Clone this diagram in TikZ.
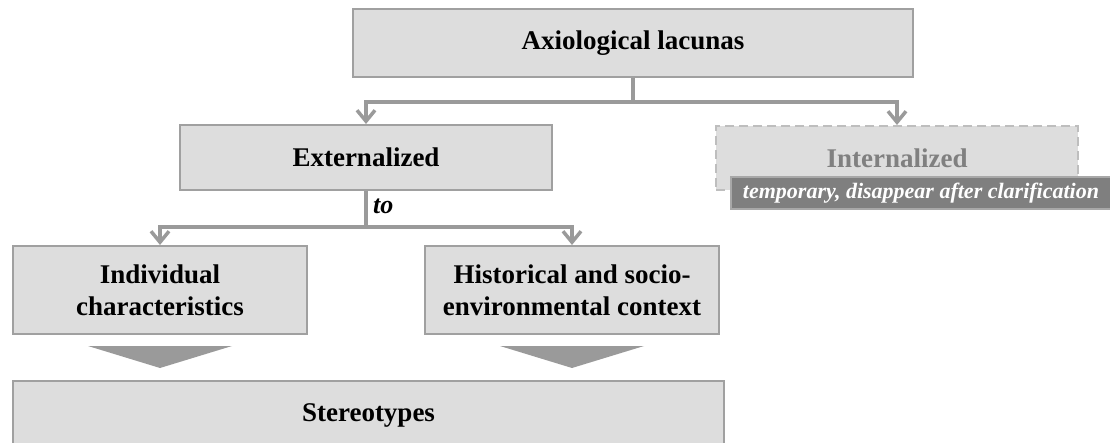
\documentclass[tikz,border=0pt]{standalone}
\usepackage{fontspec}
\setmainfont{Liberation Serif}
\usetikzlibrary{arrows.meta,calc}
\definecolor{boxfill}{HTML}{DDDDDD}
\definecolor{boxline}{HTML}{A0A0A0}
\definecolor{linkgray}{HTML}{9A9A9A}
\definecolor{softtext}{HTML}{808080}
\definecolor{softline}{HTML}{BEBEBE}
\definecolor{barfill}{HTML}{7F7F7F}
\definecolor{barline}{HTML}{A8A8A8}
\tikzset{
  box/.style={draw=boxline, fill=boxfill, line width=2pt, inner sep=0pt, align=center,
    font=\fontsize{27}{32}\selectfont\bfseries},
  softbox/.style={box, draw=softline, dash pattern=on 9pt off 5pt, text=softtext},
  notebar/.style={draw=barline, fill=barfill, line width=1.5pt, inner sep=0pt, text=white,
    font=\fontsize{22}{26}\selectfont\bfseries\itshape},
  link/.style={draw=linkgray, line width=3.2pt},
  linkarrow/.style={link, -{Straight Barb[length=11pt,width=18pt,line width=3.5pt]}},
  chevron/.style={fill=linkgray},
}
\begin{document}
\begin{tikzpicture}[x=1pt,y=-1pt]
\useasboundingbox (0,0) rectangle (1110,443);
\clip (0,0) rectangle (1110,443);

% boxes
\node[box, minimum width=560pt, minimum height=68pt] (top) at (633,43) {Axiological lacunas};
\node[box, minimum width=372pt, minimum height=65pt] (ext) at (366,157.5) {Externalized};
\node[softbox, minimum width=362pt, minimum height=64pt] (int) at (897,158) {Internalized};
\node[notebar, minimum width=380pt, minimum height=32pt] (note) at (921,193)
  {temporary, disappear after clarification};
\node[box, minimum width=294pt, minimum height=88pt] (ind) at (160,290)
  {Individual\\characteristics};
\node[box, minimum width=294pt, minimum height=88pt] (hist) at (572,290)
  {Historical and socio-\\environmental context};
\node[box, minimum width=711pt, minimum height=68pt] (stereo) at (368.5,415) {Stereotypes};

% first split
\draw[link] (top.south) -- ++(0,24) coordinate (split1);
\draw[linkarrow] (split1) -| (ext.north);
\draw[linkarrow] (split1) -| (int.north);

% second split
\draw[link] (ext.south) -- ++(0,36) coordinate (split2);
\node[anchor=west, inner sep=2pt, font=\fontsize{26}{30}\selectfont\bfseries\itshape] (to)
  at ($(ext.south)+(5,15)$) {to};
\draw[linkarrow] (split2) -| (ind.north);
\draw[linkarrow] (split2) -| (hist.north);

% chevrons towards the common result
\fill[chevron] ($(ind.south)+(-72,11)$) -- ($(ind.south)+(72,11)$) -- ($(ind.south)+(0,33)$) -- cycle;
\fill[chevron] ($(hist.south)+(-72,11)$) -- ($(hist.south)+(72,11)$) -- ($(hist.south)+(0,33)$) -- cycle;
\end{tikzpicture}
\end{document}
